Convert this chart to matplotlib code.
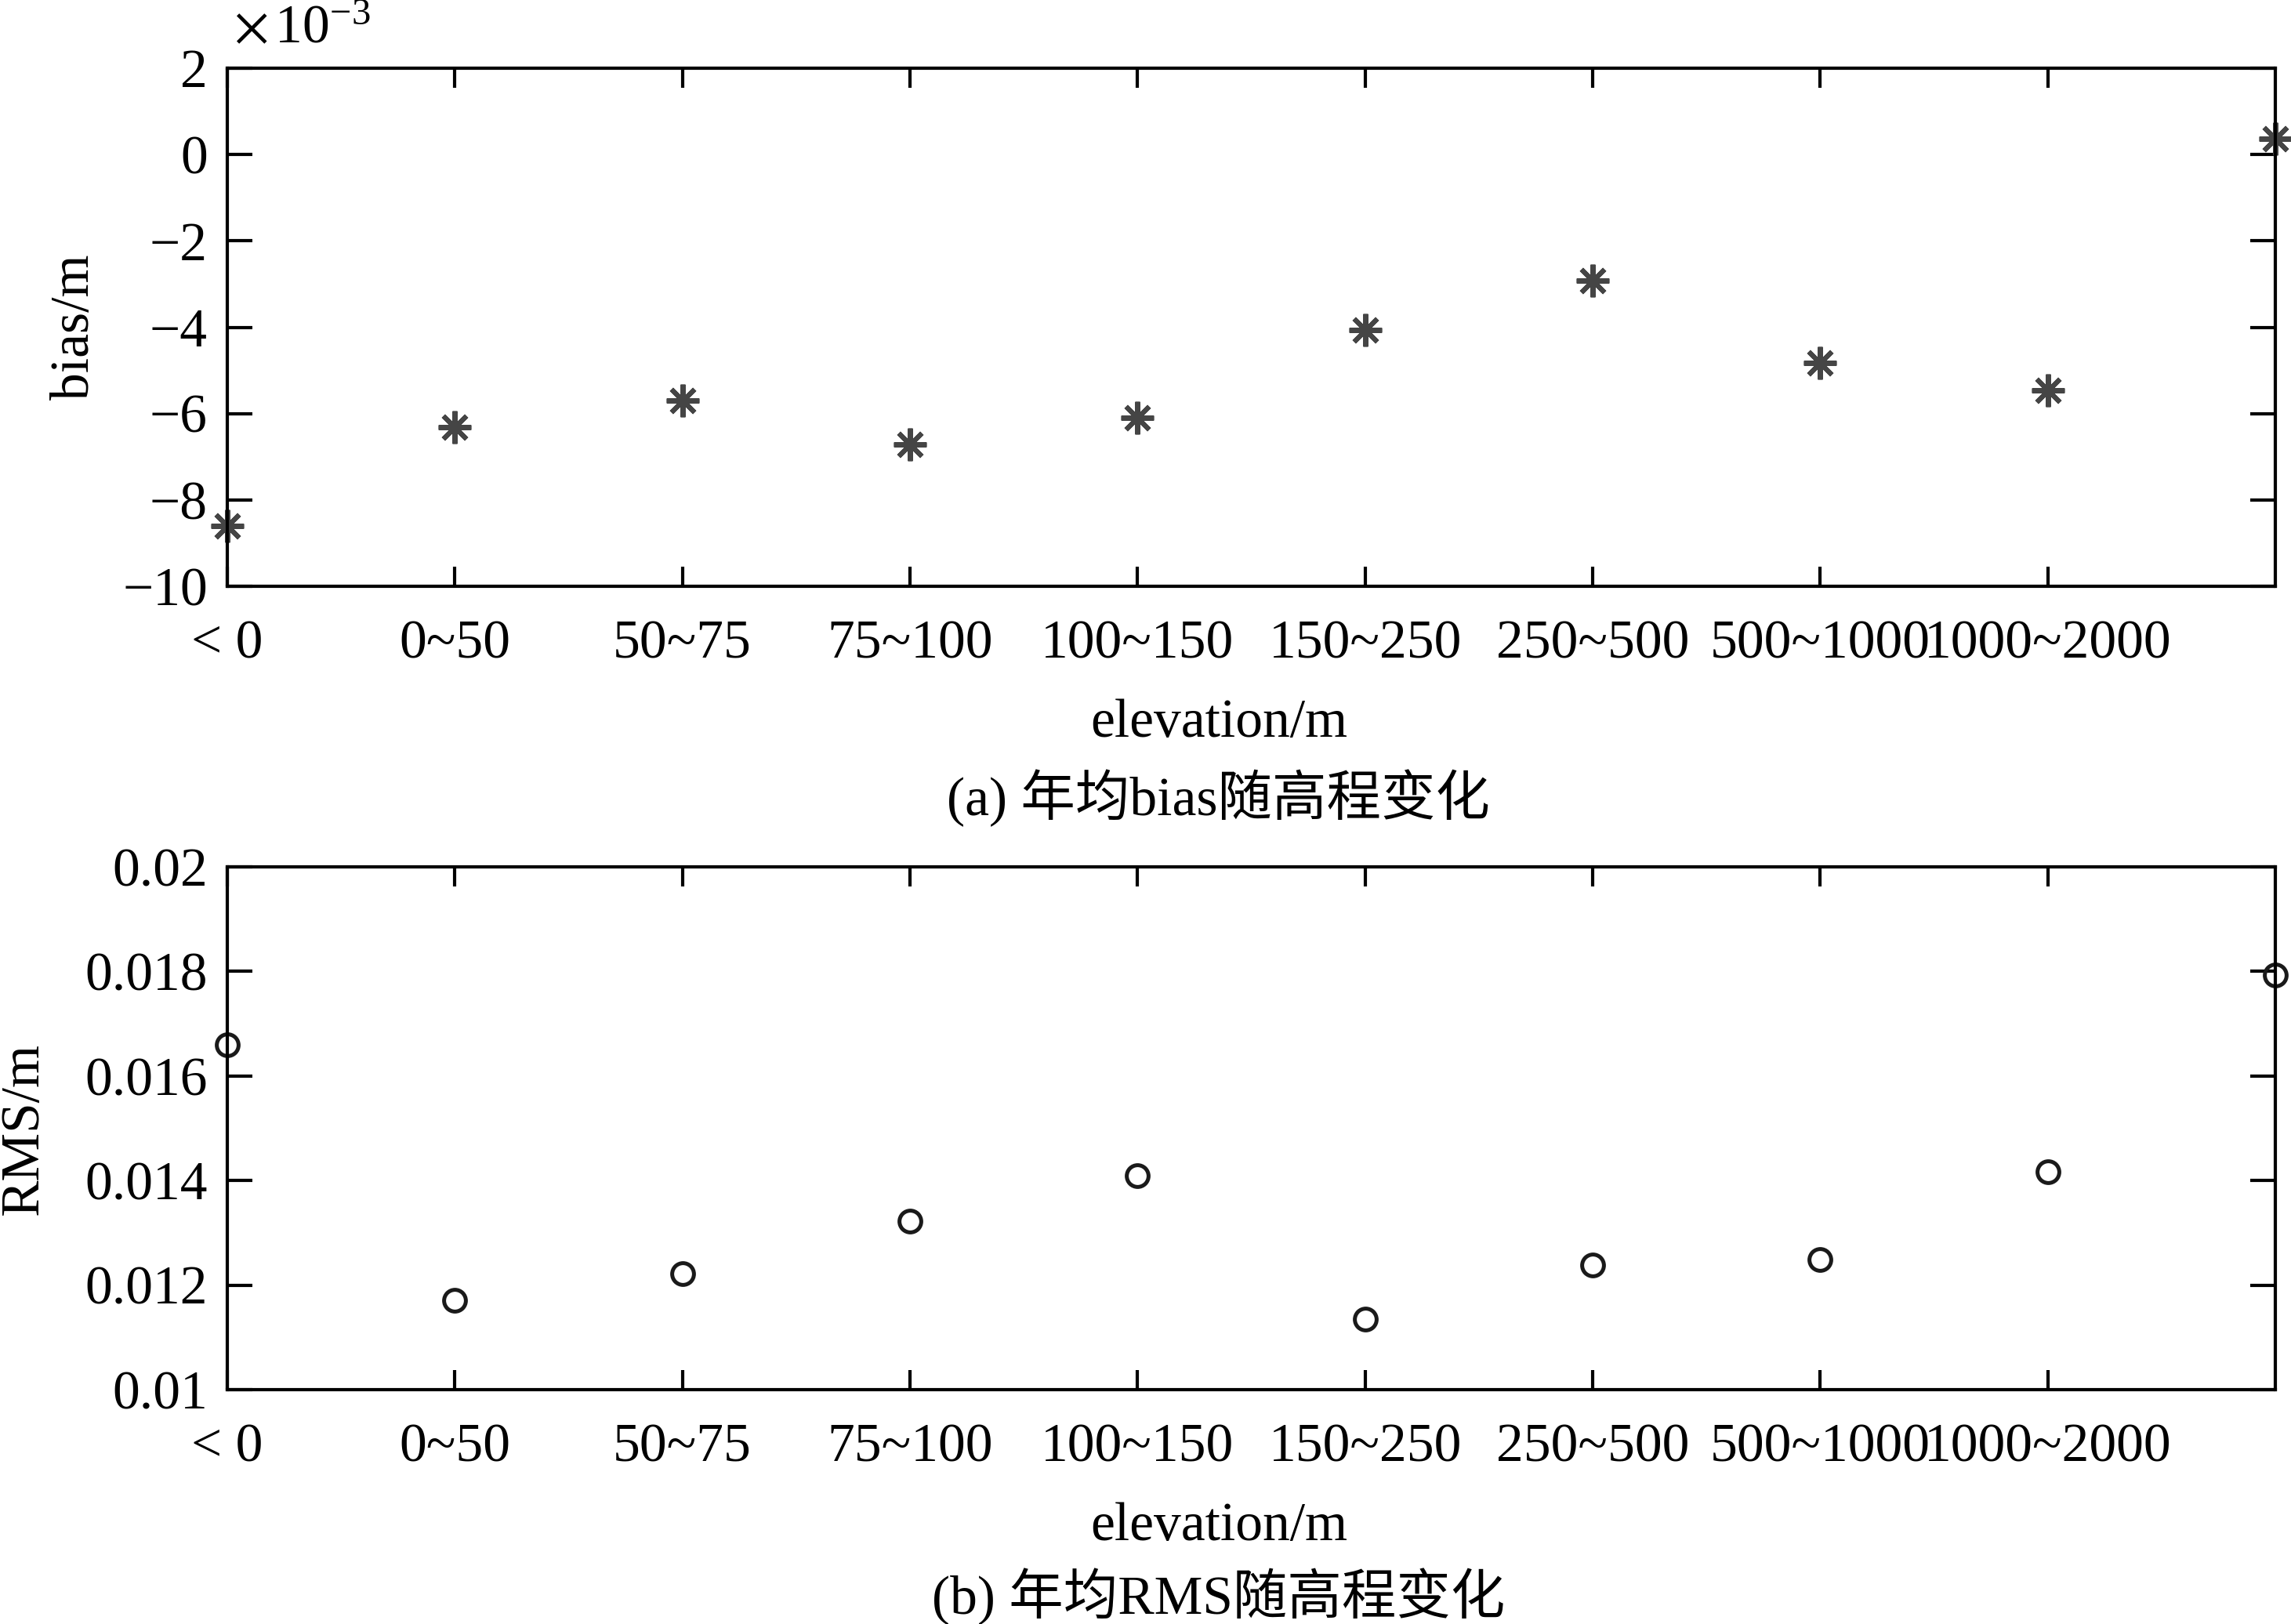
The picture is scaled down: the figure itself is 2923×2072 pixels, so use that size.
import matplotlib
matplotlib.use("Agg")
import matplotlib.pyplot as plt
import numpy as np

plt.rcParams['font.family'] = ['Liberation Serif', 'Noto Sans CJK SC']
plt.rcParams['mathtext.fontset'] = 'stix'

categories = ["< 0", "0~50", "50~75", "75~100", "100~150", "150~250",
              "250~500", "500~1000", "1000~2000"]
bias_e3 = [-8.6, -6.32, -5.70, -6.71, -6.10, -4.06, -2.92, -4.82, -5.46, 0.37]
rms = [0.01659, 0.01171, 0.01222, 0.01322, 0.01409, 0.01135, 0.01238,
       0.01249, 0.01417, 0.01793]
bias_yticks = [-10, -8, -6, -4, -2, 0, 2]
rms_yticks = [0.01, 0.012, 0.014, 0.016, 0.018, 0.02]
rms_yticklabels = ["0.01", "0.012", "0.014", "0.016", "0.018", "0.02"]

W, H = 2923, 2072
dpi = 200
fig = plt.figure(figsize=(W / dpi, H / dpi), dpi=dpi)

def px_axes(l, r, t, b):
    return fig.add_axes([l / W, 1 - b / H, (r - l) / W, (b - t) / H])

ax1 = px_axes(290, 2903, 87, 748)
ax2 = px_axes(290, 2903, 1106, 1773)

FS = 25
x = np.arange(len(bias_e3))

ax1.plot(x, bias_e3, linestyle='none', marker=(8, 2, 0), markersize=15,
         markeredgewidth=2.2, color='#454545', clip_on=False)
ax2.plot(x, rms, linestyle='none', marker='o', markersize=10,
         markerfacecolor='none', markeredgewidth=1.8, markeredgecolor='#1a1a1a',
         clip_on=False)

for ax in (ax1, ax2):
    ax.set_xlim(0, len(bias_e3) - 1)
    ax.set_xticks(np.arange(len(categories)))
    ax.set_xticklabels(categories)
    for s in ax.spines.values():
        s.set_linewidth(1.5)
    ax.tick_params(axis='both', direction='in', top=True, right=True,
                   labelsize=FS, width=1.5)
    ax.tick_params(axis='x', length=9, pad=15.5)
    ax.tick_params(axis='y', length=11.5, pad=9)
    ax.set_xlabel("elevation/m", fontsize=FS)

ax1.xaxis.set_label_coords((1555 - 290) / 2613, -(923 - 748) / 661, transform=ax1.transAxes)
ax2.xaxis.set_label_coords((1555 - 290) / 2613, -(1948 - 1773) / 667, transform=ax2.transAxes)
ax1.xaxis.label.set_va('center')
ax2.xaxis.label.set_va('center')

ax1.set_ylim(-10, 2)
ax1.set_yticks(bias_yticks)
ax1.set_yticklabels([f"{v:d}".replace('-', '\u2212') for v in bias_yticks])
ax1.set_ylabel("bias/m", fontsize=FS, labelpad=10)

ax2.set_ylim(0.01, 0.02)
ax2.set_yticks(rms_yticks)
ax2.set_yticklabels(rms_yticklabels)
ax2.set_ylabel("RMS/m", fontsize=FS, labelpad=16.5)

fig.text(298 / W, 1 - 38 / H, r"$\times\,\mathregular{10^{-3}}$", fontsize=FS,
         ha='left', va='center')

fig.text(1555 / W, 1 - 1018 / H, "(a) 年均bias随高程变化", fontsize=FS,
         ha='center', va='center')
fig.text(1555 / W, 1 - 2037 / H, "(b) 年均RMS随高程变化", fontsize=FS,
         ha='center', va='center')

fig.savefig("out.png", dpi=dpi)
